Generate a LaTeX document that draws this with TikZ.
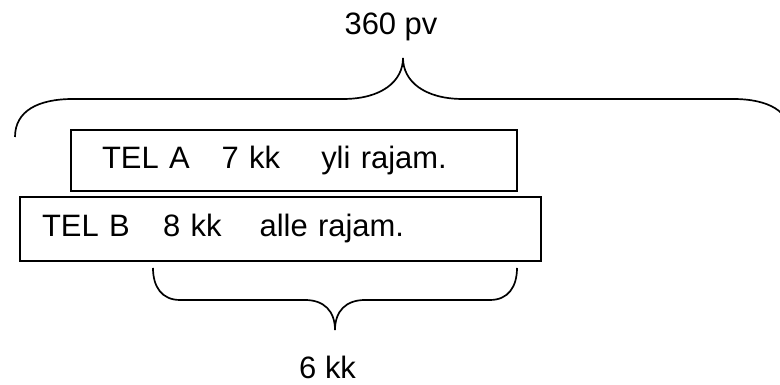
\documentclass[tikz,border=0pt]{standalone}
\usepackage{fontspec}
\setmainfont{Liberation Sans}
\usepackage{tikz}
\usetikzlibrary{positioning}
\tikzset{telbox/.style={rectangle, draw=black, line width=1.2pt, align=left},
bracecurve/.style={draw=black, line width=1.2pt},
every label/.style={rectangle, draw=none}}

\begin{document}
\begin{tikzpicture}[font=\fontsize{22}{26}\selectfont]
\coordinate (Corner1) at (0,0);
\coordinate (Corner2) at (19.5,9.625);
\useasboundingbox (Corner1) rectangle (Corner2);
\clip (Corner1) rectangle (Corner2);

%%% Phones
\begin{scope}[every node/.style={telbox}]
\node[minimum height=1.525cm, text width=9.6cm, inner xsep=0.775cm] (telA) at (7.35,5.6125) {TEL A\hspace{0.8cm}7 kk\hspace{1.03cm}yli rajam.};
\node[minimum height=1.6cm, text width=11.925cm, inner xsep=0.55cm] (telB) at (7.0125,3.9) {TEL B\hspace{0.84cm}8 kk\hspace{0.95cm}alle rajam.};
\end{scope}

%%% 360 pv brace
\coordinate (pvleft) at (0.375,6.2);
\coordinate (pvtip) at (10.075,8.175);
\coordinate (pvright) at (19.775,6.2);
\draw[bracecurve] (pvleft) .. controls (0.375,6.85) and (0.95,7.15) .. (1.825,7.15) -- (8.575,7.15) .. controls (9.55,7.15) and (10.075,7.6) .. (pvtip) .. controls (10.075,7.6) and (10.6,7.15) .. (11.575,7.15) -- (18.325,7.15) .. controls (19.2,7.15) and (19.775,6.85) .. (pvright);
\node[anchor=base] (pvlabel) at (9.775,8.75) {360 pv};

%%% 6 kk brace
\coordinate (kkleft) at (3.825,2.925);
\coordinate (kktip) at (8.375,1.375);
\coordinate (kkright) at (12.925,2.925);
\draw[bracecurve] (kkleft) .. controls (3.825,2.45) and (4.05,2.125) .. (4.5,2.125) -- (7.625,2.125) .. controls (8.1,2.125) and (8.375,1.85) .. (kktip) .. controls (8.375,1.85) and (8.65,2.125) .. (9.125,2.125) -- (12.25,2.125) .. controls (12.7,2.125) and (12.925,2.45) .. (kkright);
\node[anchor=base] (kklabel) at (8.19,0.16) {6 kk};

\end{tikzpicture}
\end{document}
